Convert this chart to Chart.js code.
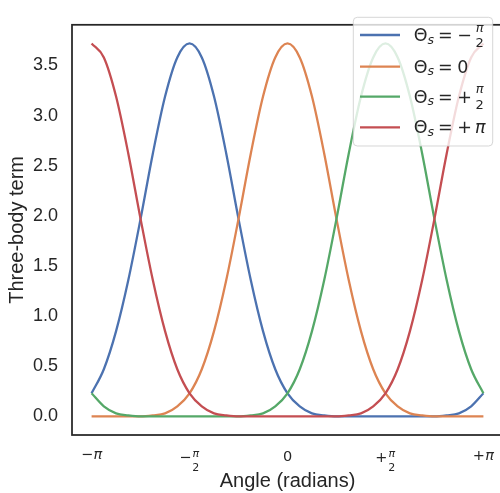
<!DOCTYPE html>
<html>
<head>
<meta charset="utf-8">
<script src="https://cdn.jsdelivr.net/npm/chart.js@4.4.0/dist/chart.umd.min.js"></script>
<style>
  html, body { margin: 0; padding: 0; overflow: hidden; background: #fff; }
  canvas { display: block; }
</style>
</head>
<body>
<canvas id="threeBodyChart" width="505" height="493"></canvas>
<script>
// sample grid in steps of pi/16 from -pi to +pi
const angleSteps = [-16, -15, -14, -13, -12, -11, -10, -9, -8, -7, -6, -5, -4, -3, -2, -1, 0,
  1, 2, 3, 4, 5, 6, 7, 8, 9, 10, 11, 12, 13, 14, 15, 16];
const angles = angleSteps.map(k => k * Math.PI / 16);

const termMinusHalfPi = [0.23, 0.47, 0.85, 1.36, 1.97, 2.62, 3.19, 3.58, 3.72, 3.58, 3.19, 2.62, 1.97, 1.36, 0.85, 0.47,
  0.23, 0.10, 0.03, 0.01, 0.00, 0.00, 0.00, 0.00, 0.00, 0.00, 0.00, 0.00, 0.00, 0.01, 0.03, 0.10, 0.23];
const termZero = [0.00, 0.00, 0.00, 0.00, 0.00, 0.01, 0.03, 0.10, 0.23, 0.47, 0.85, 1.36, 1.97, 2.62, 3.19, 3.58,
  3.72, 3.58, 3.19, 2.62, 1.97, 1.36, 0.85, 0.47, 0.23, 0.10, 0.03, 0.01, 0.00, 0.00, 0.00, 0.00, 0.00];
const termPlusHalfPi = [0.23, 0.10, 0.03, 0.01, 0.00, 0.00, 0.00, 0.00, 0.00, 0.00, 0.00, 0.00, 0.00, 0.01, 0.03, 0.10,
  0.23, 0.47, 0.85, 1.36, 1.97, 2.62, 3.19, 3.58, 3.72, 3.58, 3.19, 2.62, 1.97, 1.36, 0.85, 0.47, 0.23];
const termPlusPi = [3.72, 3.58, 3.19, 2.62, 1.97, 1.36, 0.85, 0.47, 0.23, 0.10, 0.03, 0.01, 0.00, 0.00, 0.00, 0.00,
  0.00, 0.00, 0.00, 0.00, 0.00, 0.01, 0.03, 0.10, 0.23, 0.47, 0.85, 1.36, 1.97, 2.62, 3.19, 3.58, 3.72];

const series = [termMinusHalfPi, termZero, termPlusHalfPi, termPlusPi];
const seriesLabels = ['Θs = −π/2', 'Θs = 0', 'Θs = +π/2', 'Θs = +π'];
const colors = ['#4C72B0', '#DD8452', '#55A868', '#C44E52'];

// right-hand side of each legend entry, written as math pieces
const legendValues = [
  [{ t: '−' }, { num: 'π', den: '2' }],
  [{ t: '0' }],
  [{ t: '+' }, { num: 'π', den: '2' }],
  [{ t: '+' }, { t: 'π', it: true }]
];

const xTickValues = [-Math.PI, -Math.PI / 2, 0, Math.PI / 2, Math.PI];
const xTickLabels = [
  [{ t: '−' }, { t: 'π', it: true }],
  [{ t: '−' }, { num: 'π', den: '2' }],
  [{ t: '0' }],
  [{ t: '+' }, { num: 'π', den: '2' }],
  [{ t: '+' }, { t: 'π', it: true }]
];
const yTickValues = [0, 0.5, 1, 1.5, 2, 2.5, 3, 3.5];

const ink = '#262626';

function mathFont(size, italic) {
  return (italic ? 'italic ' : '') + size + 'px "DejaVu Sans"';
}

// width of a row of math pieces (plain text and small stacked fractions)
function measureParts(ctx, parts, size, fracSize, gap) {
  let w = 0;
  parts.forEach((p, i) => {
    if (i > 0) w += gap;
    if (p.num) {
      ctx.font = mathFont(fracSize, true);
      const wn = ctx.measureText(p.num).width;
      ctx.font = mathFont(fracSize, false);
      const wd = ctx.measureText(p.den).width;
      p.w = Math.max(wn, wd) + 1;
    } else {
      ctx.font = mathFont(size, p.it);
      p.w = ctx.measureText(p.t).width;
    }
    w += p.w;
  });
  return w;
}

// ink height above the baseline, used to top-align the tick labels
function partsAscent(ctx, parts, size, fracSize, numRise) {
  let a = 0;
  parts.forEach(p => {
    if (p.num) {
      ctx.font = mathFont(fracSize, true);
      a = Math.max(a, numRise + ctx.measureText(p.num).actualBoundingBoxAscent);
    } else {
      ctx.font = mathFont(size, p.it);
      a = Math.max(a, ctx.measureText(p.t).actualBoundingBoxAscent);
    }
  });
  return a;
}

function drawParts(ctx, parts, x, baseline, size, fracSize, gap, numRise, denDrop) {
  measureParts(ctx, parts, size, fracSize, gap);
  ctx.textBaseline = 'alphabetic';
  parts.forEach((p, i) => {
    if (i > 0) x += gap;
    if (p.num) {
      ctx.textAlign = 'center';
      ctx.font = mathFont(fracSize, true);
      ctx.fillText(p.num, x + p.w / 2, baseline - numRise);
      ctx.font = mathFont(fracSize, false);
      ctx.fillText(p.den, x + p.w / 2, baseline + denDrop);
    } else {
      ctx.textAlign = 'left';
      ctx.font = mathFont(size, p.it);
      ctx.fillText(p.t, x, baseline);
    }
    x += p.w;
  });
  return x;
}

function roundRect(ctx, x, y, w, h, r) {
  ctx.beginPath();
  ctx.moveTo(x + r, y);
  ctx.arcTo(x + w, y, x + w, y + h, r);
  ctx.arcTo(x + w, y + h, x, y + h, r);
  ctx.arcTo(x, y + h, x, y, r);
  ctx.arcTo(x, y, x + w, y, r);
  ctx.closePath();
}

// axes frame, pi tick labels and the legend box
const decorations = {
  id: 'decorations',
  afterDraw(chart) {
    const { ctx, chartArea: area } = chart;
    const xs = chart.scales.x;
    ctx.save();

    ctx.strokeStyle = ink;
    ctx.lineWidth = 1.75;
    ctx.strokeRect(area.left, area.top, area.right - area.left, area.bottom - area.top);

    ctx.fillStyle = ink;
    xTickValues.forEach((v, i) => {
      const parts = xTickLabels[i];
      const w = measureParts(ctx, parts, 14.5, 11, 0.5);
      const asc = partsAscent(ctx, parts, 14.5, 11, 5.5);
      const cx = xs.getPixelForValue(v);
      drawParts(ctx, parts, cx - w / 2, area.bottom + 15.5 + asc, 14.5, 11, 0.5, 5.5, 8.8);
    });

    // legend
    const box = { x: 353.3, y: 17.3, w: 139.4, h: 128.7 };
    const rowCenters = [17.7, 49.4, 79.4, 110];
    ctx.fillStyle = 'rgba(255,255,255,0.8)';
    ctx.strokeStyle = 'rgba(204,204,204,0.8)';
    ctx.lineWidth = 1;
    roundRect(ctx, box.x, box.y, box.w, box.h, 4);
    ctx.fill();
    ctx.stroke();

    seriesLabels.forEach((label, i) => {
      const cy = box.y + rowCenters[i];
      ctx.strokeStyle = colors[i];
      ctx.lineWidth = 2.3;
      ctx.beginPath();
      ctx.moveTo(box.x + 6.7, cy);
      ctx.lineTo(box.x + 46.7, cy);
      ctx.stroke();

      ctx.fillStyle = ink;
      const base = cy + 5.9;
      let x = box.x + 60.5;
      x = drawParts(ctx, [{ t: 'Θ' }], x, base, 17.5, 13, 0, 0, 0);
      ctx.font = mathFont(12.5, true);
      ctx.textAlign = 'left';
      ctx.fillText('s', x, base + 2.6);
      x += ctx.measureText('s').width + 4;
      x = drawParts(ctx, [{ t: '=' }], x, base, 17.5, 13, 0, 0, 0) + 4.5;
      drawParts(ctx, legendValues[i], x, base, 17.5, 13, 3, 9.2, 6.2);
    });

    ctx.restore();
  }
};

const ctx = document.getElementById('threeBodyChart').getContext('2d');

const chart = new Chart(ctx, {
  type: 'line',
  data: {
    datasets: series.map((values, i) => ({
      label: seriesLabels[i],
      data: angles.map((a, j) => ({ x: a, y: values[j] })),
      borderColor: colors[i],
      backgroundColor: colors[i],
      borderWidth: 2.3,
      pointRadius: 0,
      fill: false,
      cubicInterpolationMode: 'monotone',
      order: series.length - 1 - i,
    })),
  },
  options: {
    responsive: false,
    animation: false,
    devicePixelRatio: 1,
    layout: { padding: { left: 0, top: 8, right: 2, bottom: 0 } },
    plugins: {
      legend: { display: false },
      tooltip: { enabled: false },
    },
    scales: {
      x: {
        type: 'linear',
        min: -1.1 * Math.PI,
        max: 1.1 * Math.PI,
        grid: { display: false, drawTicks: false },
        border: { display: false },
        ticks: { display: false },
        title: {
          display: true,
          text: 'Angle (radians)',
          color: ink,
          font: { family: 'Liberation Sans', size: 20 },
          padding: { top: 0, bottom: 0 },
        },
        afterFit: scale => { scale.height = 58; },
      },
      y: {
        min: -0.186,
        max: 3.906,
        grid: { display: false, drawTicks: false },
        border: { display: false },
        ticks: {
          padding: 14,
          color: ink,
          font: { family: 'Liberation Sans', size: 18 },
          callback: v => v.toFixed(1),
        },
        afterBuildTicks: scale => { scale.ticks = yTickValues.map(v => ({ value: v })); },
        title: {
          display: true,
          text: 'Three-body term',
          color: ink,
          font: { family: 'Liberation Sans', size: 20 },
          padding: { top: 5, bottom: 0 },
        },
        afterFit: scale => { scale.width = 72; },
      },
    },
  },
  plugins: [decorations],
});
</script>
</body>
</html>
